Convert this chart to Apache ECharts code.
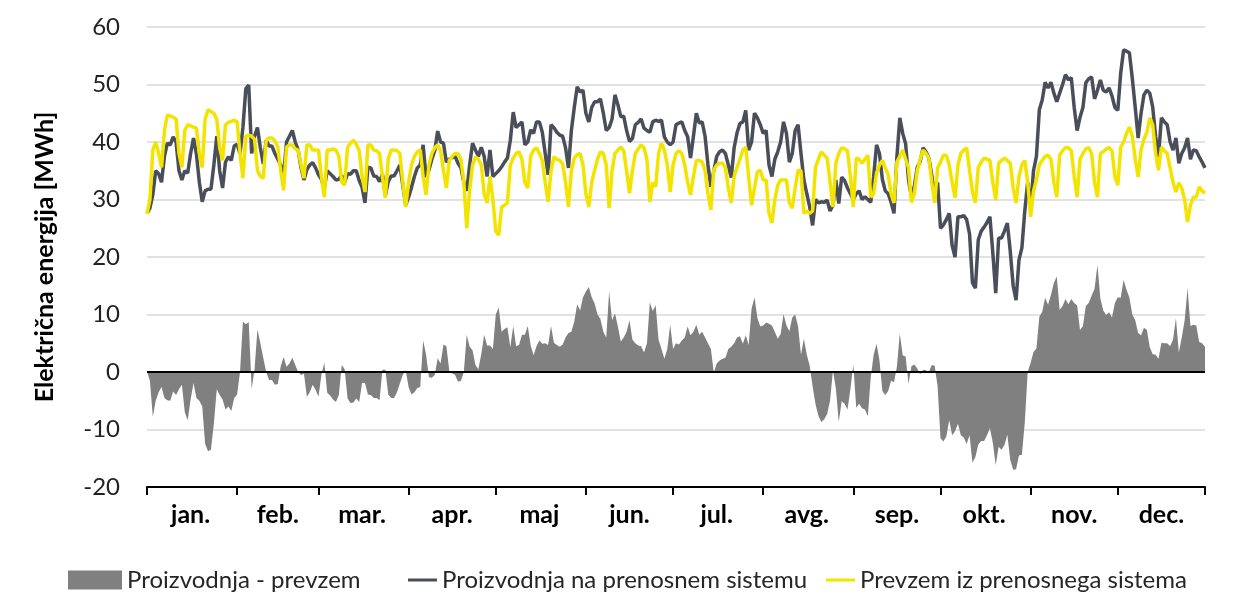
<!DOCTYPE html>
<html>
<head>
<meta charset="utf-8">
<script src="https://cdn.jsdelivr.net/npm/echarts/dist/echarts.min.js"></script>
<style>
html,body{margin:0;padding:0;background:#ffffff;}
#chart{width:1236px;height:596px;}
</style>
</head>
<body>
<div id="chart"></div>
<script>
// ---- data (daily values, MWh) ----
const monthLabels = ['jan.','feb.','mar.','apr.','maj','jun.','jul.','avg.','sep.','okt.','nov.','dec.'];
const monthDays = [31,28,31,30,31,30,31,31,30,31,30,31];
const yAxisMin = -20, yAxisMax = 60, yAxisStep = 10;

const consumption = [
// jan
27.5,30,38.6,40,38,35.6,42,44.7,44.5,44.3,44,38,35.6,42,43,42.8,42.6,42.4,38,35.6,44,45.6,45.3,45,44,39,36.8,43,43.4,43.6,43.8,
// feb
43.5,38,33.7,41,41.2,41,40.5,35.1,34,33.7,40.3,40.7,40.7,40.2,39.1,35,31.6,39.1,39.5,39.5,38.8,38.6,36,33.7,39.5,39.5,38.6,38.6,
// mar
38.6,34,30.4,38.6,38.6,38.8,38.6,37.5,33,32.5,39.1,39.8,40.3,39.6,38.5,34,31.3,39.5,39.5,38.6,38.5,38,34,30.3,37,38.6,38.6,38.5,38,33,28.7,
// apr
33,36,37.5,38.3,38.6,34,30.8,36,38,39,39.5,38.5,35,32,36.8,37.5,38,38,37,33,25,31.6,36,37.4,37,36,31,29.4,34,30,
// maj
24.5,23.8,28.7,29,29.4,36,37.2,38,38.3,37,33,32,37.5,38.6,39,38,36.8,33,29.6,35,37.4,37,36.8,36.2,33,28.7,35,37.2,37.8,38,36,
// jun
31,28.7,33,35.1,37,38.3,38,36,28.5,35,38,38.6,39.1,38.5,35,31.1,35,38,38.8,39.5,39,37,29.6,32.9,32.2,38,39.8,38.6,36,31.3,
// jul
36,38,38.5,38,36,33,30.8,34,36.8,36.8,36.5,35,31,28.2,35.1,36,36.3,36.3,35.5,32,29.4,34,35.6,37,38.6,39.1,33.9,29,32,34.8,35.1,
// avg
33.4,33.4,27.6,25.9,30,32.5,33.4,33.4,33.4,29.4,28.5,32,35.1,35,27.6,28,27.6,28,35.6,37,38.3,37.7,37.2,33,28.7,36.3,38,39,38.8,38.5,34,
// sep
28.7,37.2,37,36.3,37,37.7,30.4,31,34.6,36,36.8,35.5,34.3,31,29.4,36.5,37.5,38.6,37,35.5,29.5,31,35,37,38.6,38,37.2,33,29.4,35.5,
// okt
36.5,37.7,37.7,36,33,30.3,36,38,38.6,39,35,31.3,29.4,35.6,36.5,37.2,37,36.8,33,29.9,36.3,36.8,37.2,36.8,36.3,32,29.4,34,36,36.8,33,
// nov
27,31.5,33.4,36,36.8,37.5,37.7,37,33,30.4,37.7,38.5,39,39,38.5,34,30.4,37,38,38.8,39,38,33,30.4,38,38.3,38.8,39,38.5,34,
// dec
32.5,39.1,40,41.5,42.6,41,37,33.9,38.6,40.5,41.7,44.2,43,38,35.1,39.1,38.5,38,35.5,33,31.3,32.9,32,30,26.1,29,30.4,30.4,32.2,31.5,31.1
];

const production = [
// jan
27.6,28.5,30.8,35,34.5,33,37.5,39.8,39.5,40.9,40,35,33.4,35,34.6,38,40.7,37.9,33,29.6,31.5,31.8,31.8,36,41,35,32,36.5,37.4,36.8,39.3,
// feb
39.6,38,42.5,49.3,49.9,38,41,42.5,39,36.2,40.3,39.3,39.3,38,37,36,34.2,40,41,42,40,38.6,35.5,33.4,35.2,36,36.4,35.5,
// mar
34.3,33.5,32,35,34.5,34,33.4,33.5,34.2,33,34.5,34.4,35,35,33.3,32.1,29.4,35.6,35.5,34.1,34,33.1,34.4,30.7,33.1,34.1,34.1,35,36,32.5,29,
// apr
30.4,32.1,34,35.5,36,39.5,33.9,35.1,37,38.5,41.9,40,39.8,36.5,37,37.3,37.5,36.3,35.5,33,31.5,36,39.8,38.6,37.5,39.1,37.5,34,38.6,34,
// maj
34.5,35,35.7,36.5,37.2,40.3,45.2,42.5,43,43.5,39.5,40,42.1,41.5,43.5,43.5,41.7,38,34.3,43,42.5,41.7,41.2,41,39,35.5,42,46,49.6,48.7,49,
// jun
45,43.5,46,47,47,47.5,45,42,42.5,44,48.2,46.5,44.4,44.5,42,40.1,40.6,43,43.4,44,42.4,42,41.7,43.5,43.8,43.6,43.8,40.9,40,39.5,
// jul
40,43,43.3,43.5,42,40.9,37.2,41,45,43.3,43.5,41,36,32.2,35,37.5,38.3,38.6,38,36,33.8,39,41.6,43.2,43.5,45.5,38.6,40,45,44.2,43,
// avg
41.5,42,36,34,37,38.3,40,43.5,41.5,36.5,38,42,43,38,33.4,31,28.7,25.5,30,29.4,29.6,29.5,29.9,28,29,33.4,29.3,33.9,33.3,32,31,
// sep
30,31,31.5,30,30.5,30,29.5,34,39.5,38,33.5,31.5,31,29.5,27.6,37.4,44.2,41.5,39.7,33.4,30.5,32.3,35.6,36.6,39,38.3,37.2,34.2,30.5,33,
// okt
25,25.6,26.5,27.6,22,20,27,27,27.2,26.5,24,15.5,14.6,23,24.5,25.2,26,27,20.7,13.7,23.3,23.3,24.5,25.9,21,15,12.5,19.5,21.6,28,33,
// nov
28.6,35,37.5,45.6,47.3,50.4,49.4,50.4,48.5,47,48.5,50,51.7,50.8,51.2,46,42,44.3,46,50.3,51,51.3,47.5,49,50.8,49,48.7,49.4,48,46,
// dec
45.5,52,56,55.8,55.5,51,46,40.7,45,48.2,49,48.5,46.1,41,37.4,44.2,43.5,43,40,38.6,40.7,36.3,38,39,40.7,37,38.6,38.5,37.4,36.5,35.5
];

// ---- derived: difference series and axis helpers ----
const difference = production.map((p, i) => Math.round((p - consumption[i]) * 100) / 100);
const days = [];
const tickIdx = new Set();
const labelAt = {};
let acc = 0;
monthDays.forEach((n, m) => {
  tickIdx.add(acc);
  labelAt[acc + Math.floor(n / 2)] = monthLabels[m];
  acc += n;
});
tickIdx.add(acc - 1);
for (let i = 0; i < acc; i++) days.push(String(i + 1));

const FONT = 'Lato, "Open Sans", sans-serif';
const legendText = {fontFamily: FONT, fontSize: 24, color: '#262626'};
const chart = echarts.init(document.getElementById('chart'), null, {renderer: 'canvas'});
chart.setOption({
  animation: false,
  backgroundColor: '#ffffff',
  grid: {left: 147, right: 31, top: 27, bottom: 109, containLabel: false, outerBoundsMode: 'none'},
  xAxis: {
    type: 'category',
    data: days,
    boundaryGap: false,
    axisLine: {onZero: false, lineStyle: {color: '#000', width: 2}},
    axisTick: {show: true, interval: (i) => tickIdx.has(i), length: 8, lineStyle: {color: '#000', width: 2}},
    axisLabel: {
      interval: (i) => (i in labelAt),
      formatter: (v, i) => labelAt[i] || '',
      fontFamily: FONT, fontWeight: 'bold', fontSize: 25, color: '#000', margin: 15
    },
    splitLine: {show: false}
  },
  yAxis: {
    type: 'value', min: yAxisMin, max: yAxisMax, interval: yAxisStep,
    name: 'Električna energija [MWh]', nameLocation: 'middle', nameGap: 90, nameRotate: 90,
    nameTextStyle: {fontFamily: FONT, fontSize: 25, fontWeight: 'bold', color: '#000'},
    axisLine: {show: false}, axisTick: {show: false},
    axisLabel: {fontFamily: FONT, fontSize: 24, color: '#222', margin: 27},
    splitLine: {show: true, lineStyle: {color: '#d9d9d9', width: 1.5}}
  },
  legend: [
    {data: [{name: 'Proizvodnja - prevzem', icon: 'rect'}], left: 68, top: 568, itemWidth: 54, itemHeight: 19, padding: 0,
     textStyle: legendText},
    {data: [{name: 'Proizvodnja na prenosnem sistemu', icon: 'rect'}], left: 408, top: 568, itemWidth: 29, itemHeight: 3, padding: 0,
     textStyle: legendText},
    {data: [{name: 'Prevzem iz prenosnega sistema', icon: 'rect'}], left: 826, top: 568, itemWidth: 29, itemHeight: 3, padding: 0,
     textStyle: legendText}
  ],
  series: [
    {
      name: 'Proizvodnja - prevzem', type: 'line', data: difference, symbol: 'none', showSymbol: false,
      lineStyle: {width: 0}, itemStyle: {color: '#808080'},
      areaStyle: {color: '#808080', opacity: 1},
      markLine: {silent: true, symbol: 'none', label: {show: false}, lineStyle: {color: '#000', width: 2, type: 'solid'}, data: [{yAxis: 0}]}
    },
    {
      name: 'Proizvodnja na prenosnem sistemu', type: 'line', data: production, symbol: 'none', showSymbol: false,
      lineStyle: {color: '#4a4e5a', width: 3.5}, itemStyle: {color: '#4a4e5a'}
    },
    {
      name: 'Prevzem iz prenosnega sistema', type: 'line', data: consumption, symbol: 'none', showSymbol: false,
      lineStyle: {color: '#f2e400', width: 3.5}, itemStyle: {color: '#f2e400'}
    }
  ]
});
</script>
</body>
</html>
